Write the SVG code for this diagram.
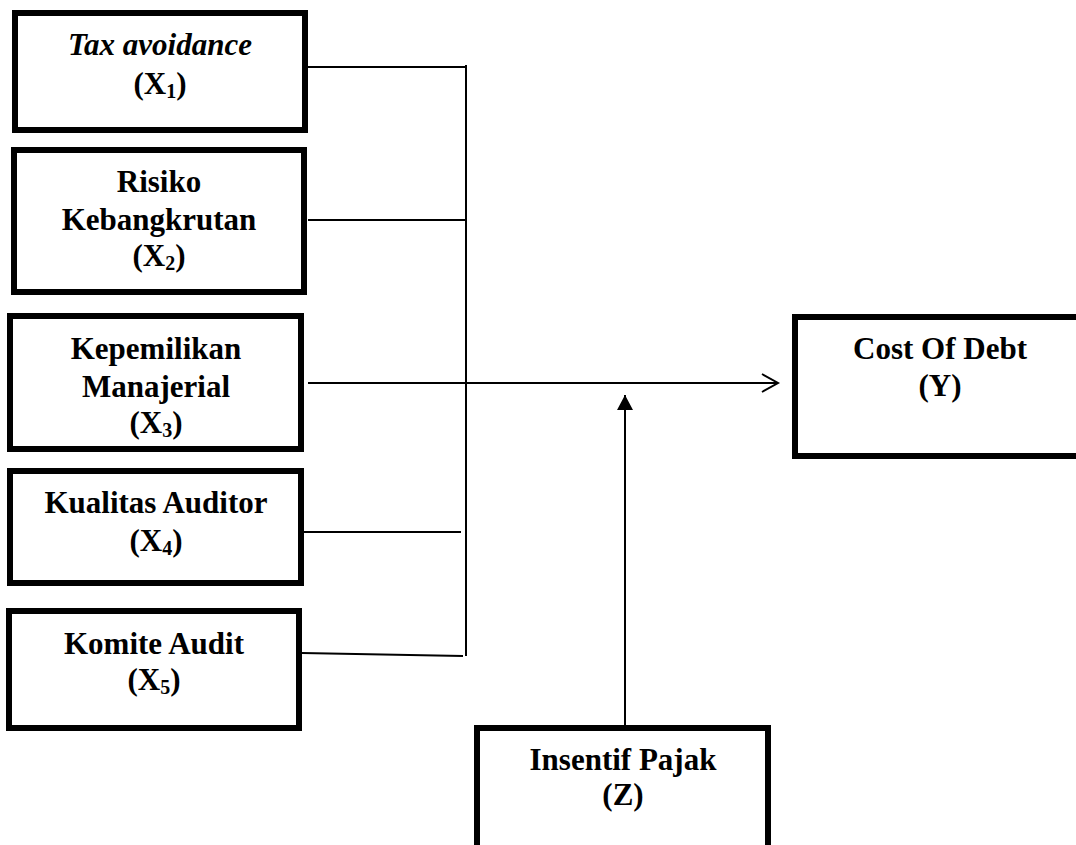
<svg xmlns="http://www.w3.org/2000/svg" width="1076" height="845" viewBox="0 0 1076 845">
<style>
.box{fill:#fff;stroke:#000;stroke-width:6}
.t{font-family:"Liberation Serif","Times New Roman",serif;font-weight:bold;font-size:31px;text-anchor:middle;fill:#000}
.i{font-style:italic}
.sub{font-size:20px}
.ln{stroke:#000;stroke-width:2;fill:none}
</style>
<defs>
<marker id="open" markerWidth="20" markerHeight="24" refX="17" refY="10" orient="auto" markerUnits="userSpaceOnUse">
<path d="M1,1 L17,10 L1,19" fill="none" stroke="#000" stroke-width="2"/>
</marker>
<marker id="solid" markerWidth="18" markerHeight="16" refX="15" refY="8" orient="auto" markerUnits="userSpaceOnUse">
<path d="M0,0 L15,8 L0,16 Z" fill="#000"/>
</marker>
</defs>
<rect width="1076" height="845" fill="#fff"/>
<g id="connectors">
<line class="ln" x1="466" y1="65" x2="466" y2="656"/>
<line class="ln" x1="308" y1="67" x2="467" y2="67"/>
<line class="ln" x1="308" y1="220" x2="467" y2="220"/>
<line class="ln" x1="308" y1="383" x2="778" y2="383" marker-end="url(#open)"/>
<line class="ln" x1="303" y1="532" x2="461" y2="532"/>
<line class="ln" x1="302" y1="653" x2="463" y2="656"/>
<line class="ln" x1="625" y1="725" x2="625" y2="395" marker-end="url(#solid)"/>
</g>
<g id="x1">
<rect class="box" x="15" y="13" width="290" height="117"/>
<text class="t i" x="160" y="55">Tax avoidance</text>
<text class="t" x="160" y="94">(X<tspan class="sub" dy="4">1</tspan><tspan dy="-4">)</tspan></text>
</g>
<g id="x2">
<rect class="box" x="14" y="150" width="290" height="142"/>
<text class="t" x="159" y="192">Risiko</text>
<text class="t" x="159" y="230">Kebangkrutan</text>
<text class="t" x="159" y="266">(X<tspan class="sub" dy="4">2</tspan><tspan dy="-4">)</tspan></text>
</g>
<g id="x3">
<rect class="box" x="10" y="316" width="291" height="133"/>
<text class="t" x="156" y="359">Kepemilikan</text>
<text class="t" x="156" y="397">Manajerial</text>
<text class="t" x="156" y="433">(X<tspan class="sub" dy="4">3</tspan><tspan dy="-4">)</tspan></text>
</g>
<g id="x4">
<rect class="box" x="10" y="471" width="291" height="112"/>
<text class="t" x="156" y="513">Kualitas Auditor</text>
<text class="t" x="156" y="551">(X<tspan class="sub" dy="4">4</tspan><tspan dy="-4">)</tspan></text>
</g>
<g id="x5">
<rect class="box" x="9" y="611" width="290" height="117"/>
<text class="t" x="154" y="654">Komite Audit</text>
<text class="t" x="154" y="690">(X<tspan class="sub" dy="4">5</tspan><tspan dy="-4">)</tspan></text>
</g>
<g id="y">
<rect class="box" x="795" y="317" width="300" height="139"/>
<text class="t" x="940" y="359">Cost Of Debt</text>
<text class="t" x="940" y="396">(Y)</text>
</g>
<g id="z">
<rect class="box" x="477" y="728" width="291" height="140"/>
<text class="t" x="623" y="770">Insentif Pajak</text>
<text class="t" x="623" y="805">(Z)</text>
</g>
</svg>
